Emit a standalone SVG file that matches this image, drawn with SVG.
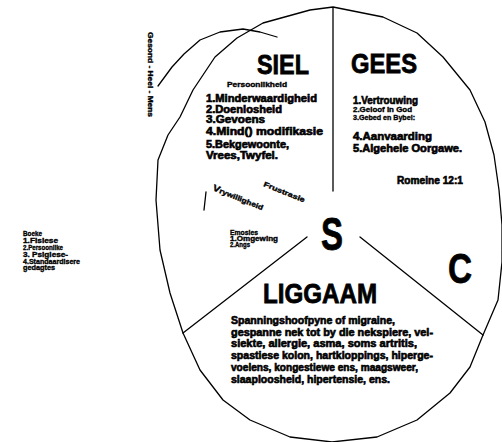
<svg xmlns="http://www.w3.org/2000/svg" width="502" height="442" viewBox="0 0 502 442">
<style>
.ln{fill:none;stroke:#000;stroke-width:1.3;stroke-linejoin:round;stroke-linecap:round}
text{font-family:"Liberation Sans",Arial,sans-serif;font-weight:bold;fill:#000}
.big{stroke:#000;stroke-width:0.8}
.sm{font-size:10px;stroke:#000;stroke-width:0.6}
.xs{font-size:7px;stroke:#000;stroke-width:0.35}
</style>
<rect width="502" height="442" fill="#fff"/>
<g id="connectors">
<path class="ln" d="M333,7 L383,17 L417,33 L443,57 L470,90 L485,122 L494,155 L499,190 L502,225 L502,262 L498,300 L483,335 L470,367 L450,393 L417,420 L377,437 L332,442 L290,437 L250,420 L223,400 L200,370 L183,333 L170,293 L160,250 L156,200 L158,160 L168,135 L180,117 L193,90 L215,57 L237,38 L263,23 L310,10 Z"/>
<polyline class="ln" points="158,86 172,67 184,54 200,40 220,32 243,29 260,32 277,37"/>
<line class="ln" x1="333" y1="8" x2="333" y2="191"/>
<line class="ln" x1="307" y1="237" x2="183" y2="333"/>
<line class="ln" x1="360" y1="237" x2="483" y2="335"/>
<line class="ln" x1="206" y1="192" x2="204" y2="210"/>
</g>
<g id="siel">
<text class="big" x="257" y="74" font-size="27" textLength="52" lengthAdjust="spacingAndGlyphs">SIEL</text>
<text class="xs" x="227" y="87" font-size="8" textLength="60" lengthAdjust="spacingAndGlyphs">Persoonlikheid</text>
<text class="sm" x="206" y="102" textLength="111" lengthAdjust="spacingAndGlyphs">1.Minderwaardigheid</text>
<text class="sm" x="206" y="112.5" textLength="76" lengthAdjust="spacingAndGlyphs">2.Doenlosheid</text>
<text class="sm" x="206" y="123" textLength="59" lengthAdjust="spacingAndGlyphs">3.Gevoens</text>
<text class="sm" x="206" y="135" textLength="117" lengthAdjust="spacingAndGlyphs">4.Mind() modifikasie</text>
<text class="sm" x="206" y="148" textLength="83" lengthAdjust="spacingAndGlyphs">5.Bekgewoonte,</text>
<text class="sm" x="206" y="159" textLength="72" lengthAdjust="spacingAndGlyphs">Vrees,Twyfel.</text>
</g>
<g id="gees">
<text class="big" x="351" y="73" font-size="27" textLength="66" lengthAdjust="spacingAndGlyphs">GEES</text>
<text class="sm" x="353" y="104" textLength="65" lengthAdjust="spacingAndGlyphs">1.Vertrouwing</text>
<text class="xs" x="353" y="112" textLength="59" lengthAdjust="spacingAndGlyphs">2.Geloof in God</text>
<text class="xs" x="353" y="120" textLength="62" lengthAdjust="spacingAndGlyphs">3.Gebed en Bybel:</text>
<text class="sm" x="353" y="140" textLength="79" lengthAdjust="spacingAndGlyphs">4.Aanvaarding</text>
<text class="sm" x="353" y="152" textLength="109" lengthAdjust="spacingAndGlyphs">5.Algehele Oorgawe.</text>
<text class="sm" x="397" y="184" textLength="66" lengthAdjust="spacingAndGlyphs">Romeine 12:1</text>
</g>
<g id="middle">
<text class="xs" transform="translate(212,190) rotate(22)" textLength="54" lengthAdjust="spacingAndGlyphs"><tspan font-size="9">V</tspan>rywilligheid</text>
<text class="xs" transform="translate(263,186) rotate(22)" textLength="44" lengthAdjust="spacingAndGlyphs">Frustrasie</text>
<text class="xs" x="230" y="235" textLength="28" lengthAdjust="spacingAndGlyphs">Emosies</text>
<text class="xs" x="230" y="241" textLength="48" lengthAdjust="spacingAndGlyphs">1.Omgewing</text>
<text class="xs" x="230" y="247" textLength="20" lengthAdjust="spacingAndGlyphs">2.Angs</text>
<text class="big" x="321" y="250" font-size="46" textLength="22" lengthAdjust="spacingAndGlyphs">S</text>
<text class="big" x="448" y="283" font-size="43" textLength="24" lengthAdjust="spacingAndGlyphs">C</text>
</g>
<g id="liggaam">
<text class="big" x="263" y="303" font-size="28" textLength="114" lengthAdjust="spacingAndGlyphs">LIGGAAM</text>
<text class="sm" x="231" y="324" textLength="164" lengthAdjust="spacingAndGlyphs">Spanningshoofpyne of migraine,</text>
<text class="sm" x="231" y="335.5" textLength="202" lengthAdjust="spacingAndGlyphs">gespanne nek tot by die nekspiere, vel-</text>
<text class="sm" x="231" y="347" textLength="186" lengthAdjust="spacingAndGlyphs">siekte, allergie, asma, soms artritis,</text>
<text class="sm" x="231" y="358.5" textLength="202" lengthAdjust="spacingAndGlyphs">spastiese kolon, hartkloppings, hiperge-</text>
<text class="sm" x="231" y="371" textLength="187" lengthAdjust="spacingAndGlyphs">voelens, kongestiewe ens, maagsweer,</text>
<text class="sm" x="231" y="383" textLength="159" lengthAdjust="spacingAndGlyphs">slaaploosheid, hipertensie, ens.</text>
</g>
<g id="left">
<text class="xs" x="23" y="236" textLength="19" lengthAdjust="spacingAndGlyphs">Boeke</text>
<text class="xs" x="23" y="243" textLength="35" lengthAdjust="spacingAndGlyphs">1.Fisiese</text>
<text class="xs" x="23" y="250" textLength="40" lengthAdjust="spacingAndGlyphs">2.Persoonlike</text>
<text class="xs" x="23" y="257" textLength="45" lengthAdjust="spacingAndGlyphs">3.  Psigiese-</text>
<text class="xs" x="23" y="264" textLength="57" lengthAdjust="spacingAndGlyphs">4.Standaardisere</text>
<text class="xs" x="23" y="270" textLength="32" lengthAdjust="spacingAndGlyphs">gedagtes</text>
</g>
<g id="vertical">
<text class="xs" font-size="8" transform="translate(148,32) rotate(90)" textLength="85" lengthAdjust="spacingAndGlyphs">Gesond - Heel - Mens</text>
</g>
</svg>
